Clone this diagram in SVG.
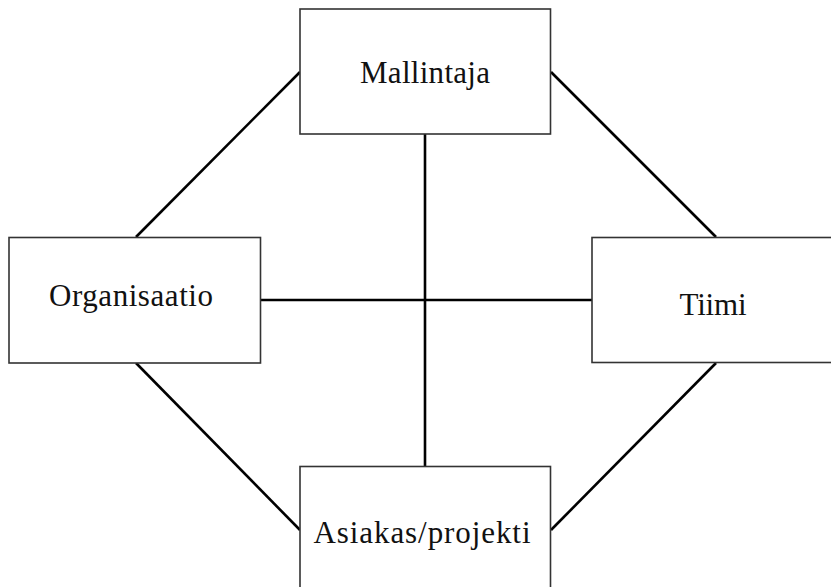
<svg xmlns="http://www.w3.org/2000/svg" width="831" height="587" viewBox="0 0 831 587">
  <style>
    .box { fill: #ffffff; stroke: #333333; stroke-width: 1.6; }
    .label { font-family: "Liberation Serif", "Times New Roman", serif; font-size: 31px; fill: #111111; text-anchor: middle; }
    .link { stroke: #000000; stroke-width: 2.6; fill: none; }
  </style>
  <rect width="831" height="587" fill="#ffffff"/>
  <g id="connectors">
    <line class="link" x1="425" y1="134" x2="425" y2="467"/>
    <line class="link" x1="260" y1="300" x2="592" y2="300"/>
    <line class="link" x1="136" y1="237" x2="300" y2="72"/>
    <line class="link" x1="551" y1="72" x2="716" y2="237"/>
    <line class="link" x1="136" y1="363" x2="300" y2="530"/>
    <line class="link" x1="716" y1="363" x2="551" y2="530"/>
  </g>
  <g id="mallintaja">
    <rect class="box" x="300" y="9" width="250.5" height="125"/>
    <text class="label" x="425" y="83" textLength="130" lengthAdjust="spacing">Mallintaja</text>
  </g>
  <g id="organisaatio">
    <rect class="box" x="9" y="237.5" width="251.5" height="125.5"/>
    <text class="label" x="131" y="306" textLength="164" lengthAdjust="spacing">Organisaatio</text>
  </g>
  <g id="tiimi">
    <rect class="box" x="592" y="237.5" width="245" height="125"/>
    <text class="label" x="713" y="315" textLength="67" lengthAdjust="spacing">Tiimi</text>
  </g>
  <g id="asiakas-projekti">
    <rect class="box" x="300" y="466.5" width="250.5" height="130"/>
    <text class="label" x="422" y="543" textLength="217" lengthAdjust="spacing">Asiakas/projekti</text>
  </g>
</svg>
